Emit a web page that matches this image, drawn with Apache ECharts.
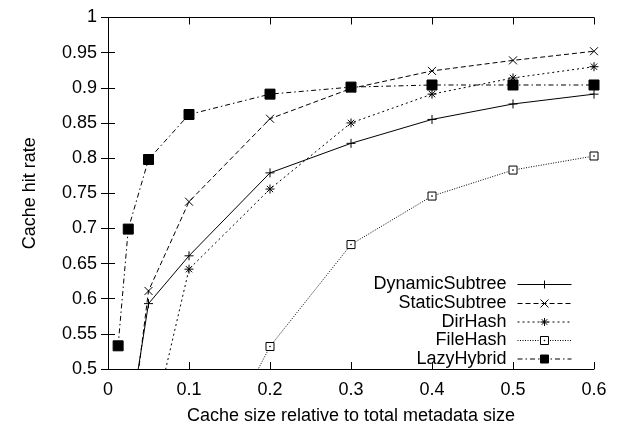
<!DOCTYPE html>
<html>
<head>
<meta charset="utf-8">
<script src="https://cdn.jsdelivr.net/npm/echarts@6/dist/echarts.min.js"></script>
<style>html,body{margin:0;padding:0;background:#fff;}#c{width:619px;height:430px;}</style>
</head>
<body>
<div id="c"></div>
<script>
// Data
const cacheSizes = [0.0125, 0.025, 0.05, 0.1, 0.2, 0.3, 0.4, 0.5, 0.6];
const dynamicSubtree = [null, 0.41, 0.593, 0.661, 0.779, 0.821, 0.855, 0.877, 0.891];
const staticSubtree  = [null, 0.38, 0.611, 0.738, 0.856, 0.899, 0.924, 0.939, 0.952];
const dirHash        = [null, null, 0.395, 0.642, 0.756, 0.850, 0.891, 0.914, 0.930];
const fileHash       = [null, null, null, 0.312, 0.532, 0.677, 0.746, 0.783, 0.803];
const lazyHybrid     = [0.533, 0.699, 0.798, 0.862, 0.891, 0.901, 0.904, 0.904, 0.904];
const seriesNames = ['DynamicSubtree', 'StaticSubtree', 'DirHash', 'FileHash', 'LazyHybrid'];
const xTicks = [0, 0.1, 0.2, 0.3, 0.4, 0.5, 0.6];
const yTicks = [0.5, 0.55, 0.6, 0.65, 0.7, 0.75, 0.8, 0.85, 0.9, 0.95, 1];

const FONT = 'Liberation Sans';
const FS = 18;

function pairs(vals) {
  return cacheSizes.map((x, i) => [x, vals[i]]);
}

const styles = [
  {symbol: 'path://M0,5L10,5M5,0L5,10', size: 9, dash: 'solid', fill: '#000'},
  {symbol: 'path://M0,0L10,10M10,0L0,10', size: 8, dash: [5, 3], fill: '#000'},
  {symbol: 'path://M0,5L10,5M5,0L5,10M1.5,1.5L8.5,8.5M8.5,1.5L1.5,8.5', size: 9, dash: [2, 3], fill: '#000'},
  {symbol: 'path://M0,0H10V10H0Z M4.6,4.6H5.4V5.4H4.6Z', size: 8, dash: [1, 1.5], fill: '#fff'},
  {symbol: 'rect', size: 10, dash: [5, 3, 1.5, 3], fill: '#000'}
];
const allVals = [dynamicSubtree, staticSubtree, dirHash, fileHash, lazyHybrid];

const series = seriesNames.map((name, i) => ({
  name: name,
  type: 'line',
  data: pairs(allVals[i]),
  xAxisIndex: 0,
  yAxisIndex: 0,
  clip: true,
  connectNulls: false,
  symbol: styles[i].symbol,
  symbolSize: styles[i].size,
  showAllSymbol: true,
  lineStyle: {color: '#000', width: 1, type: styles[i].dash},
  itemStyle: {color: styles[i].fill, borderColor: '#000', borderWidth: 1},
  emphasis: {disabled: true},
  z: 10 - i
}));

const legendTops = [275, 294, 312.5, 331, 349.5];
const legends = seriesNames.map((name, i) => ({
  data: [name],
  orient: 'vertical',
  align: 'right',
  right: 47,
  top: legendTops[i],
  itemWidth: 54,
  itemHeight: 10,
  itemGap: 0,
  padding: 0,
  selectedMode: false,
  itemStyle: {color: styles[i].fill, borderColor: '#000', borderWidth: 1},
  lineStyle: {width: 1, color: '#000', type: styles[i].dash},
  textStyle: {fontFamily: FONT, fontSize: FS, color: '#000', lineHeight: 19, padding: [0, 6, 0, 0]}
}));

const axisCommon = {
  axisLine: {show: true, lineStyle: {color: '#000', width: 1}},
  axisTick: {show: true, inside: true, length: 7, lineStyle: {color: '#000', width: 1}},
  splitLine: {show: false}
};

const option = {
  animation: false,
  backgroundColor: '#fff',
  grid: {left: 108, right: 25, top: 17.5, bottom: 54, containLabel: false},
  legend: legends,
  xAxis: [
    Object.assign({
      type: 'value', min: xTicks[0], max: xTicks[xTicks.length - 1], interval: 0.1, position: 'bottom',
      name: 'Cache size relative to total metadata size', nameLocation: 'middle', nameGap: 38,
      nameTextStyle: {fontFamily: FONT, fontSize: FS, color: '#000'},
      axisLabel: {fontFamily: FONT, fontSize: FS, color: '#000', margin: 12,
        formatter: v => String(+(+v).toFixed(2))}
    }, axisCommon),
    Object.assign({
      type: 'value', min: xTicks[0], max: xTicks[xTicks.length - 1], interval: 0.1, position: 'top',
      axisLabel: {show: false}
    }, axisCommon)
  ],
  yAxis: [
    Object.assign({
      type: 'value', min: yTicks[0], max: yTicks[yTicks.length - 1], interval: 0.05, position: 'left',
      name: 'Cache hit rate', nameLocation: 'middle', nameGap: 69,
      nameTextStyle: {fontFamily: FONT, fontSize: FS, color: '#000'},
      axisLabel: {fontFamily: FONT, fontSize: FS, color: '#000', margin: 11,
        formatter: v => String(+(+v).toFixed(2))}
    }, axisCommon),
    Object.assign({
      type: 'value', min: yTicks[0], max: yTicks[yTicks.length - 1], interval: 0.05, position: 'right',
      axisLabel: {show: false}
    }, axisCommon)
  ],
  series: series
};

const chart = echarts.init(document.getElementById('c'), null, {renderer: 'canvas'});
chart.setOption(option);
</script>
</body>
</html>
